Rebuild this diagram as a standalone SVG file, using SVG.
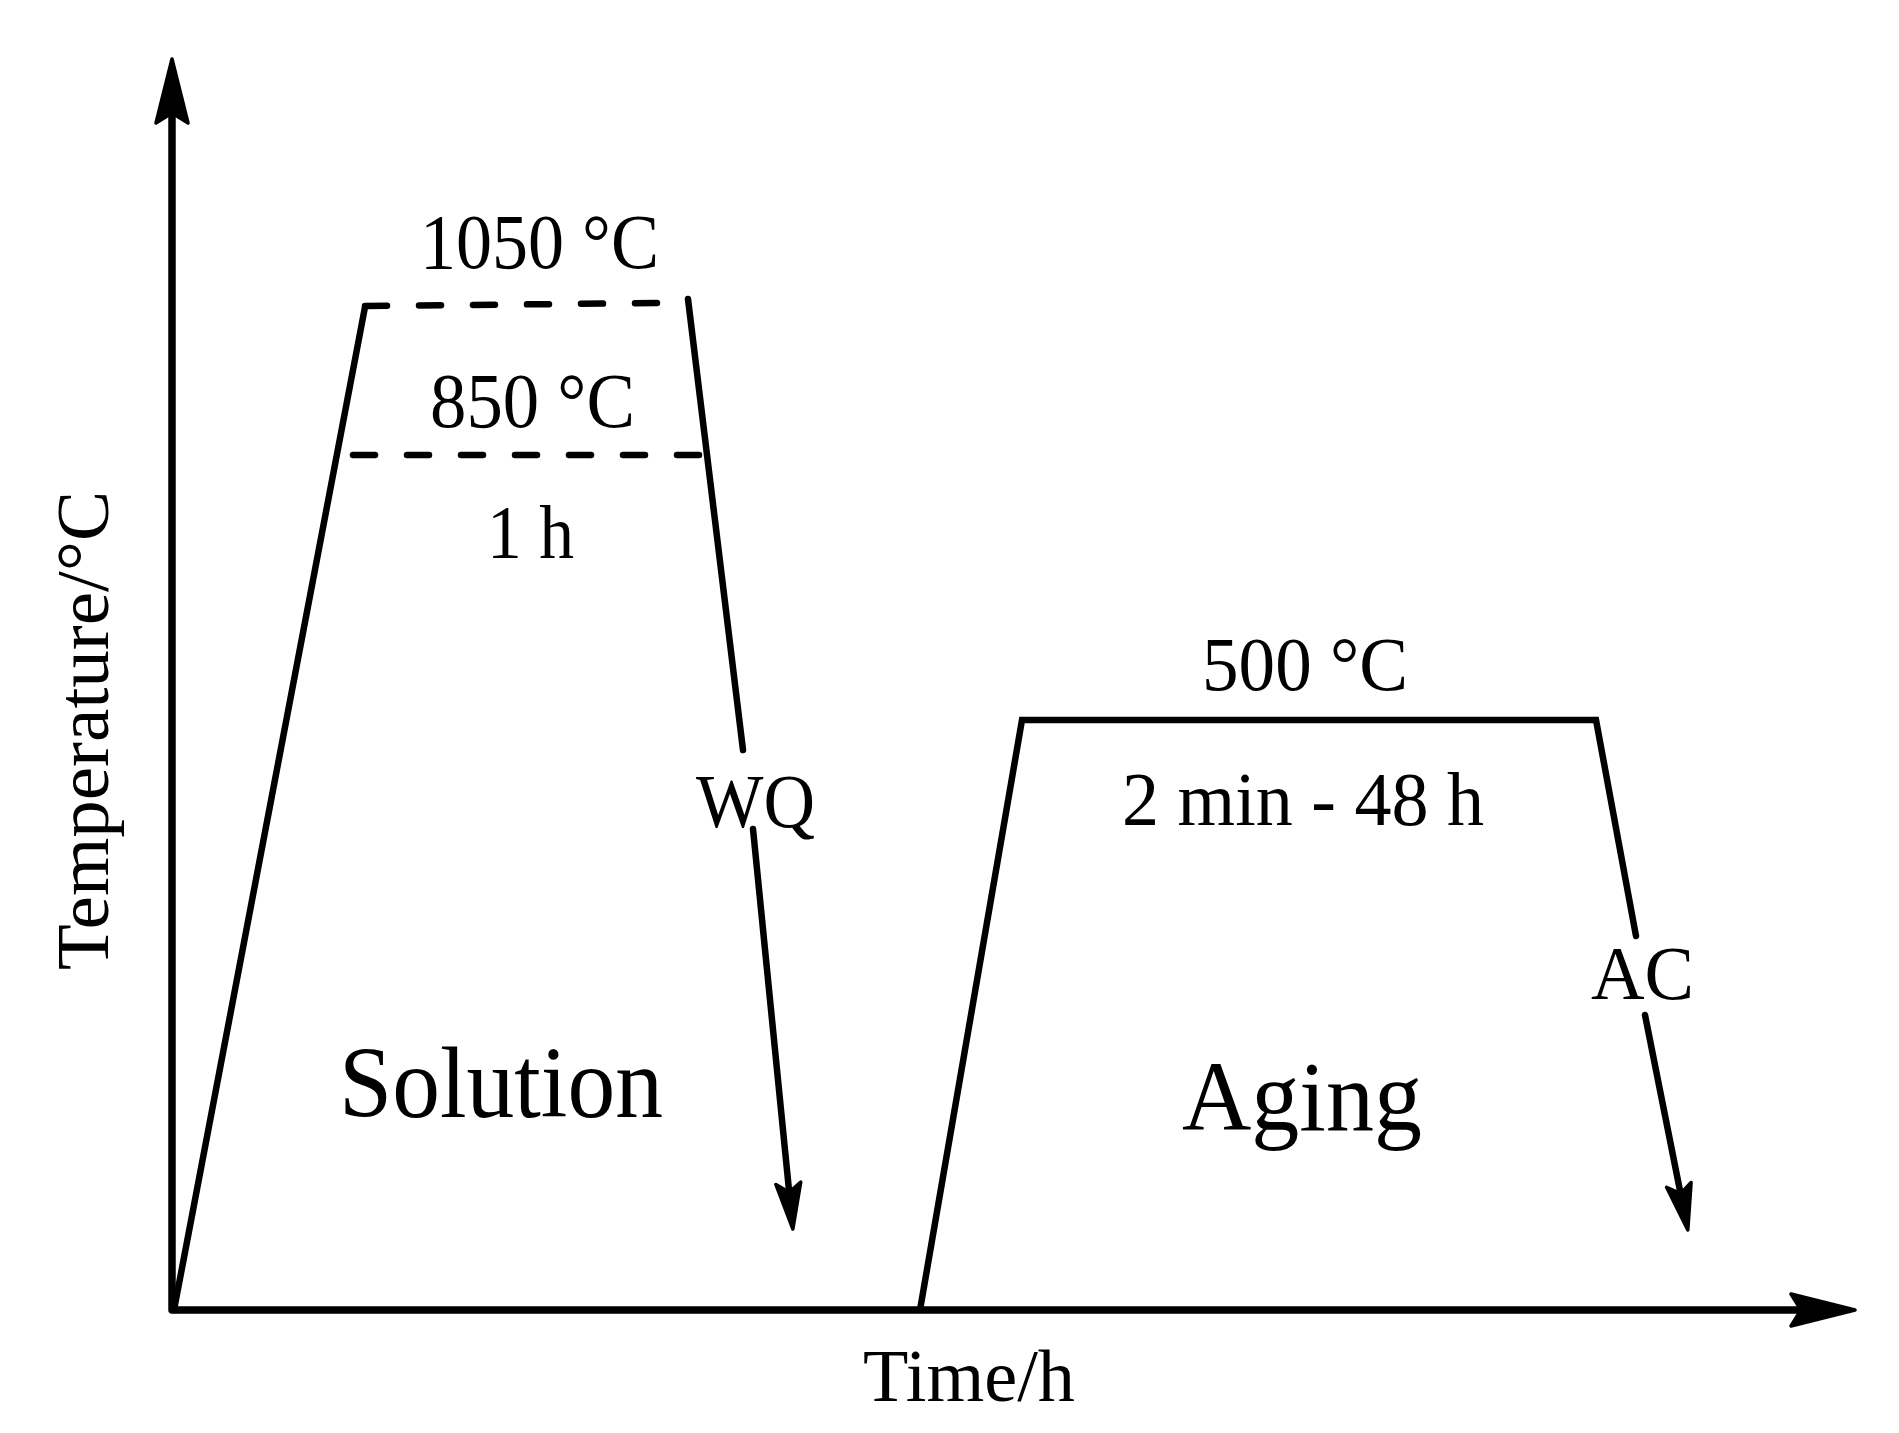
<svg xmlns="http://www.w3.org/2000/svg" width="1899" height="1433" viewBox="0 0 1899 1433">
<style>
  text { font-family: "Liberation Serif", "Times New Roman", serif; fill: #000; }
  .axis { fill: none; stroke: #000; stroke-width: 7.5; stroke-linejoin: round; stroke-linecap: round; }
  .prof { fill: none; stroke: #000; stroke-width: 6.5; stroke-linejoin: miter; stroke-linecap: round; }
  .dash { fill: none; stroke: #000; stroke-width: 6.5; stroke-linecap: round; stroke-dasharray: 22 32; }
  .cool { fill: none; stroke: #000; stroke-width: 6.5; stroke-linecap: round; }
</style>
<defs>
  <marker id="axisHead" markerUnits="userSpaceOnUse" viewBox="-14 -22 74 44" refX="0" refY="0" markerWidth="74" markerHeight="44" orient="auto-start-reverse">
    <path d="M54,0 L-10,-16 L0,0 L-10,16 Z" fill="#000" stroke="#000" stroke-width="3.5" stroke-linejoin="round"/>
  </marker>
  <marker id="slimHead" markerUnits="userSpaceOnUse" viewBox="-14 -18 58 36" refX="0" refY="0" markerWidth="58" markerHeight="36" orient="auto">
    <path d="M37,0 L-9,-12.5 L0,0 L-9,12.5 Z" fill="#000" stroke="#000" stroke-width="3.5" stroke-linejoin="round"/>
  </marker>
</defs>
<rect width="1899" height="1433" fill="#fff"/>

<g id="axes">
  <path class="axis" d="M172,113 L172,1310 L1801,1310" marker-start="url(#axisHead)" marker-end="url(#axisHead)"/>
  <text id="y-label" x="0" y="0" font-size="74" textLength="479" lengthAdjust="spacingAndGlyphs" transform="translate(108,970) rotate(-90)">Temperature/°C</text>
  <text id="x-label" x="863" y="1401" font-size="73" textLength="212" lengthAdjust="spacingAndGlyphs">Time/h</text>
</g>

<g id="solution">
  <path class="prof" d="M174,1310 L365,307"/>
  <path class="dash" d="M365,306 L663,303"/>
  <path class="dash" d="M353,455 L699,455"/>
  <path class="prof" d="M688,299 L743,750"/>
  <text x="420" y="268" font-size="78" textLength="239" lengthAdjust="spacingAndGlyphs">1050 °C</text>
  <text x="430" y="427" font-size="78" textLength="205" lengthAdjust="spacingAndGlyphs">850 °C</text>
  <text x="487" y="558" font-size="77" textLength="87" lengthAdjust="spacingAndGlyphs">1 h</text>
  <text x="339" y="1117" font-size="101" textLength="324" lengthAdjust="spacingAndGlyphs">Solution</text>
</g>

<g id="aging">
  <path class="prof" d="M920,1310 L1022,720 L1596,720 L1636,936"/>
  <text x="1202" y="690" font-size="76" textLength="206" lengthAdjust="spacingAndGlyphs">500 °C</text>
  <text x="1122" y="825" font-size="77" textLength="362" lengthAdjust="spacingAndGlyphs">2 min - 48 h</text>
  <text x="1182" y="1130" font-size="100" textLength="240" lengthAdjust="spacingAndGlyphs">Aging</text>
</g>

<g id="connectors">
  <path class="cool" d="M753,829 L789.2,1192.2" marker-end="url(#slimHead)"/>
  <path class="cool" d="M1645,1015 L1680.6,1193.7" marker-end="url(#slimHead)"/>
  <text x="696" y="827" font-size="76" textLength="119" lengthAdjust="spacingAndGlyphs">WQ</text>
  <text x="1591" y="999" font-size="77" textLength="103" lengthAdjust="spacingAndGlyphs">AC</text>
</g>
</svg>
